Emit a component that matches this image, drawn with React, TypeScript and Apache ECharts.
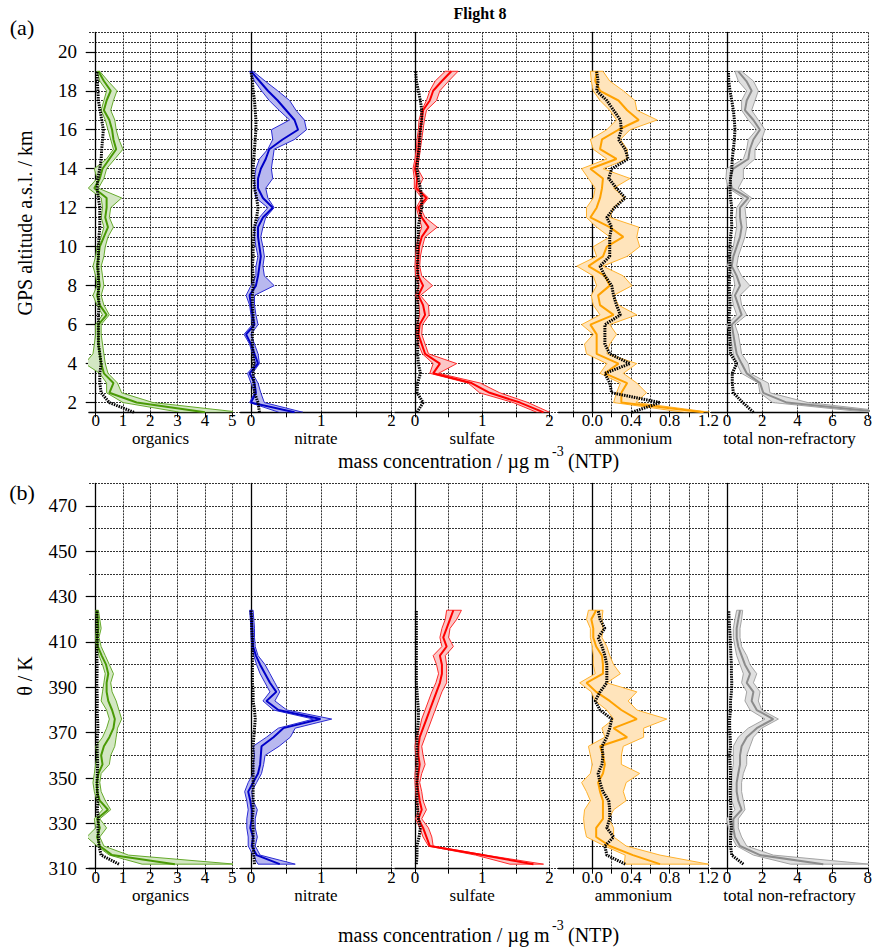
import React, { useEffect, useRef } from "react";
import * as echarts from "echarts";

// ---------- levels ----------
const ALT = [1.5, 2, 2.5, 3, 3.5, 4, 4.5, 5, 5.5, 6, 6.5, 7, 7.5, 8, 8.5, 9, 9.5, 10, 10.5, 11, 11.5, 12, 12.5, 13, 13.5, 14, 14.5, 15, 15.5, 16, 16.5, 17, 17.5, 18, 18.5, 19];
const THETA = [312, 316, 320, 324, 328, 332, 336, 340, 344, 348, 352, 356, 360, 364, 368, 372, 376, 380, 384, 388, 392, 396, 400, 404, 408, 412, 416, 420, 424];

// ---------- (a) altitude profiles ----------
const orgMedA = [4.0, 1.5, 0.5, 0.65, 0.3, 0.2, 0.15, 0.1, 0.1, 0.1, 0.4, 0.15, 0.05, 0.15, 0.1, 0.05, 0.1, 0.15, 0.3, 0.45, 0.35, 0.4, 0.4, -0.05, 0.15, 0.25, 0.5, 0.75, 0.65, 0.6, 0.5, 0.3, 0.4, 0.55, 0.3, 0.1];
const orgLoA = [3.1, 1.0, 0.4, 0.4, 0.15, -0.4, -0.1, -0.05, 0.0, 0.0, 0.25, 0.05, -0.1, 0.05, 0.0, -0.1, 0.0, 0.05, 0.2, 0.3, 0.2, 0.25, 0.2, -0.27, 0.05, -0.05, 0.4, 0.65, 0.55, 0.45, 0.35, 0.2, 0.3, 0.4, 0.15, 0.05];
const orgHiA = [5.3, 2.1, 0.95, 0.8, 0.45, 0.35, 0.3, 0.25, 0.2, 0.2, 0.5, 0.3, 0.2, 0.3, 0.25, 0.2, 0.3, 0.35, 0.45, 0.65, 0.5, 0.55, 0.95, 0.1, 0.3, 0.4, 0.7, 1.0, 0.85, 0.75, 0.7, 0.55, 0.65, 0.78, 0.45, 0.15];
const orgDlA = [1.4, 0.5, 0.2, 0.15, 0.15, 0.2, 0.15, 0.1, 0.1, 0.1, 0.1, 0.12, 0.1, 0.1, 0.1, 0.08, 0.1, 0.1, 0.12, 0.15, 0.15, 0.15, 0.1, 0.05, 0.08, 0.15, 0.2, 0.22, 0.25, 0.28, 0.22, 0.16, 0.1, 0.08, 0.06, 0.05];

const nitMedA = [0.62, 0.0, 0.07, 0.05, -0.02, 0.1, 0.05, 0.0, -0.07, 0.05, 0.02, 0.0, -0.02, 0.07, 0.1, 0.12, 0.14, 0.12, 0.1, 0.1, 0.17, 0.31, 0.17, 0.1, 0.1, 0.14, 0.21, 0.26, 0.45, 0.67, 0.62, 0.5, 0.38, 0.24, 0.12, 0.0];
const nitLoA = [0.4, -0.02, 0.05, 0.0, -0.05, 0.07, 0.02, -0.02, -0.1, 0.02, 0.0, -0.02, -0.07, 0.0, 0.07, 0.07, 0.1, 0.07, 0.05, 0.05, 0.12, 0.24, 0.07, 0.05, 0.05, 0.07, 0.12, 0.24, 0.31, 0.29, 0.55, 0.4, 0.26, 0.15, 0.05, -0.02];
const nitHiA = [0.74, 0.19, 0.14, 0.1, 0.02, 0.12, 0.1, 0.05, 0.0, 0.1, 0.07, 0.05, 0.05, 0.33, 0.19, 0.17, 0.19, 0.17, 0.14, 0.17, 0.21, 0.33, 0.24, 0.21, 0.31, 0.29, 0.31, 0.33, 0.62, 0.79, 0.76, 0.64, 0.55, 0.38, 0.2, 0.03];
const nitDlA = [0.12, 0.1, 0.05, 0.04, 0.03, 0.04, 0.03, 0.02, 0.02, 0.03, 0.03, 0.02, 0.02, 0.03, 0.03, 0.02, 0.03, 0.03, 0.04, 0.05, 0.08, 0.1, 0.08, 0.05, 0.04, 0.03, 0.04, 0.05, 0.06, 0.07, 0.07, 0.06, 0.05, 0.03, 0.02, 0.0];

const sulMedA = [1.91, 1.56, 1.11, 0.84, 0.27, 0.37, 0.15, 0.1, 0.05, 0.07, 0.15, 0.12, 0.05, 0.12, 0.05, 0.03, 0.05, 0.06, 0.1, 0.2, 0.1, 0.05, 0.17, 0.02, 0.03, 0.0, 0.03, 0.05, 0.06, 0.08, 0.1, 0.12, 0.22, 0.27, 0.4, 0.54];
const sulLoA = [1.81, 1.46, 0.96, 0.79, 0.22, 0.27, 0.11, 0.05, 0.02, 0.03, 0.07, 0.06, 0.01, 0.06, 0.01, 0.0, 0.01, 0.02, 0.05, 0.1, 0.06, 0.02, 0.1, -0.01, -0.01, -0.03, 0.0, 0.02, 0.03, 0.05, 0.06, 0.1, 0.17, 0.22, 0.3, 0.45];
const sulHiA = [2.0, 1.68, 1.26, 0.97, 0.35, 0.62, 0.2, 0.15, 0.1, 0.11, 0.21, 0.2, 0.08, 0.26, 0.1, 0.07, 0.08, 0.11, 0.15, 0.33, 0.15, 0.08, 0.2, 0.05, 0.12, 0.04, 0.06, 0.08, 0.1, 0.12, 0.14, 0.17, 0.32, 0.37, 0.5, 0.64];
const sulDlA = [0.03, 0.12, 0.03, 0.04, 0.08, 0.05, 0.04, 0.04, 0.04, 0.04, 0.04, 0.04, 0.04, 0.04, 0.04, 0.04, 0.04, 0.04, 0.05, 0.05, 0.07, 0.1, 0.1, 0.08, 0.05, 0.03, 0.04, 0.06, 0.07, 0.08, 0.1, 0.1, 0.08, 0.05, 0.02, 0.01];

const amMedA = [1.15, 0.3, 0.3, 0.36, 0.13, 0.27, 0.045, 0.045, 0.045, -0.02, 0.22, 0.08, 0.06, 0.18, 0.13, -0.04, 0.11, 0.15, 0.32, 0.18, -0.02, 0.045, 0.08, 0.1, 0.11, -0.02, 0.25, 0.08, 0.1, 0.27, 0.48, 0.36, 0.27, 0.08, 0.03, 0.045];
const amLoA = [0.95, 0.22, 0.25, 0.29, 0.08, 0.15, -0.06, -0.08, 0.01, -0.11, 0.08, 0.01, -0.01, 0.045, 0.01, -0.16, 0.045, 0.01, 0.18, 0.045, -0.06, -0.06, 0.01, 0.03, -0.04, -0.11, 0.15, 0.01, -0.02, 0.15, 0.25, 0.18, 0.08, 0.01, -0.01, -0.02];
const amHiA = [1.22, 0.45, 0.56, 0.46, 0.32, 0.46, 0.15, 0.18, 0.25, 0.18, 0.46, 0.27, 0.22, 0.41, 0.32, 0.11, 0.36, 0.49, 0.46, 0.48, 0.18, 0.22, 0.34, 0.22, 0.39, 0.11, 0.36, 0.36, 0.29, 0.39, 0.67, 0.46, 0.44, 0.32, 0.18, 0.11];
const amDlA = [0.41, 0.7, 0.2, 0.18, 0.13, 0.39, 0.18, 0.13, 0.13, 0.13, 0.29, 0.25, 0.22, 0.2, 0.13, 0.08, 0.18, 0.18, 0.18, 0.2, 0.15, 0.23, 0.34, 0.25, 0.17, 0.2, 0.37, 0.34, 0.27, 0.3, 0.29, 0.22, 0.15, 0.045, 0.06, 0.045];

const totMedA = [8.8, 3.4, 2.06, 1.88, 1.12, 0.83, 0.55, 0.45, 0.36, 0.27, 0.83, 0.64, 0.45, 0.74, 0.55, 0.27, 0.36, 0.55, 0.74, 0.83, 0.74, 0.74, 1.21, 0.27, 0.17, 0.36, 1.21, 1.3, 1.5, 1.87, 1.5, 1.02, 1.12, 1.4, 1.1, 0.64];
const totLoA = [8.0, 2.6, 1.87, 1.78, 0.83, 0.55, 0.36, 0.27, 0.17, 0.0, 0.55, 0.36, 0.27, 0.45, 0.36, 0.02, 0.17, 0.36, 0.45, 0.55, 0.51, 0.55, 0.93, 0.08, -0.06, -0.02, 0.93, 1.12, 1.21, 1.68, 1.21, 0.83, 0.83, 1.12, 0.64, 0.45];
const totHiA = [9.5, 4.6, 2.44, 2.35, 1.3, 1.21, 0.83, 0.74, 0.64, 0.45, 1.12, 0.83, 0.74, 1.3, 0.83, 0.55, 0.64, 0.83, 1.02, 1.12, 1.08, 1.02, 1.4, 0.64, 0.93, 0.93, 1.59, 1.59, 1.97, 2.16, 1.78, 1.4, 1.59, 1.78, 1.5, 0.83];
const totDlA = [1.5, 0.9, 0.36, 0.3, 0.3, 0.55, 0.2, 0.17, 0.15, 0.13, 0.13, 0.17, 0.15, 0.13, 0.15, 0.17, 0.15, 0.17, 0.2, 0.27, 0.25, 0.27, 0.2, 0.17, 0.2, 0.27, 0.3, 0.36, 0.42, 0.45, 0.42, 0.36, 0.27, 0.17, 0.1, 0.08];

// ---------- (b) potential temperature profiles ----------
const orgMedB = [2.9, 0.6, 0.15, 0.05, 0.15, 0.05, 0.45, 0.15, 0.05, 0.04, 0.1, 0.25, 0.2, 0.3, 0.5, 0.65, 0.7, 0.6, 0.46, 0.4, 0.4, 0.46, 0.38, 0.22, 0.08, 0.05, 0.1, 0.08, 0.04];
const orgLoB = [1.7, 0.5, 0.05, -0.33, 0.0, -0.05, 0.25, 0.05, -0.05, -0.1, -0.05, 0.0, 0.05, 0.0, 0.25, 0.4, 0.5, 0.4, 0.2, 0.25, 0.3, 0.35, 0.25, 0.12, 0.02, 0.0, 0.02, 0.02, 0.0];
const orgHiB = [5.1, 1.2, 0.3, 0.15, 0.4, 0.15, 0.55, 0.35, 0.2, 0.15, 0.2, 0.5, 0.55, 0.7, 0.75, 0.8, 0.95, 0.85, 0.75, 0.6, 0.55, 0.65, 0.5, 0.35, 0.2, 0.12, 0.2, 0.15, 0.1];
const orgDlB = [0.85, 0.2, 0.12, 0.1, 0.08, 0.1, 0.06, 0.08, 0.06, 0.05, 0.06, 0.07, 0.06, 0.05, 0.06, 0.08, 0.07, 0.05, 0.06, 0.05, 0.04, 0.05, 0.05, 0.04, 0.05, 0.06, 0.05, 0.04, 0.05];

const nitMedB = [0.41, 0.08, 0.01, 0.03, -0.01, 0.01, 0.01, -0.01, -0.04, 0.03, 0.1, 0.13, 0.14, 0.15, 0.32, 0.46, 0.99, 0.39, 0.22, 0.36, 0.27, 0.2, 0.13, 0.07, 0.03, 0.02, 0.02, 0.01, 0.0];
const nitLoB = [0.1, 0.03, -0.04, -0.04, -0.06, -0.06, -0.04, -0.06, -0.09, -0.04, 0.03, 0.03, 0.05, 0.03, 0.22, 0.39, 0.89, 0.32, 0.17, 0.27, 0.2, 0.13, 0.08, 0.04, 0.01, 0.0, 0.0, -0.01, -0.02];
const nitHiB = [0.63, 0.13, 0.06, 0.09, 0.06, 0.06, 0.09, 0.03, 0.01, 0.08, 0.15, 0.18, 0.2, 0.4, 0.56, 0.63, 1.15, 0.51, 0.34, 0.41, 0.34, 0.27, 0.2, 0.1, 0.06, 0.05, 0.05, 0.04, 0.03];
const nitDlB = [0.05, 0.04, 0.03, 0.03, 0.03, 0.02, 0.03, 0.03, 0.03, 0.03, 0.03, 0.03, 0.03, 0.03, 0.04, 0.05, 0.06, 0.05, 0.03, 0.03, 0.02, 0.02, 0.02, 0.02, 0.02, 0.02, 0.01, 0.01, 0.0];

const sulMedB = [1.76, 1.0, 0.22, 0.17, 0.12, 0.05, 0.1, 0.07, 0.05, 0.03, 0.05, 0.07, 0.05, 0.05, 0.07, 0.12, 0.17, 0.22, 0.27, 0.32, 0.37, 0.4, 0.4, 0.37, 0.47, 0.42, 0.47, 0.52, 0.57];
const sulLoB = [1.41, 0.9, 0.2, 0.12, 0.07, 0.01, 0.05, 0.02, 0.01, 0.0, 0.0, 0.02, 0.01, 0.0, 0.02, 0.07, 0.1, 0.15, 0.2, 0.25, 0.31, 0.35, 0.32, 0.27, 0.4, 0.37, 0.4, 0.45, 0.47];
const sulHiB = [1.91, 1.05, 0.27, 0.25, 0.2, 0.1, 0.17, 0.12, 0.1, 0.07, 0.1, 0.15, 0.12, 0.1, 0.15, 0.2, 0.25, 0.3, 0.35, 0.4, 0.47, 0.47, 0.47, 0.45, 0.57, 0.5, 0.52, 0.62, 0.69];
const sulDlB = [0.02, 0.03, 0.03, 0.06, 0.08, 0.05, 0.04, 0.03, 0.03, 0.03, 0.03, 0.03, 0.03, 0.03, 0.03, 0.04, 0.05, 0.05, 0.04, 0.03, 0.02, 0.02, 0.02, 0.02, 0.02, 0.02, 0.02, 0.02, 0.02];

const amMedB = [0.7, 0.42, 0.18, 0.04, 0.04, 0.11, 0.11, 0.11, 0.08, 0.06, 0.11, 0.13, 0.11, 0.08, 0.36, 0.22, 0.46, 0.3, 0.18, 0.04, -0.06, 0.11, 0.11, 0.1, 0.04, 0.01, 0.01, -0.01, 0.04];
const amLoB = [0.33, 0.34, 0.13, -0.06, -0.08, -0.09, -0.08, -0.02, -0.06, -0.11, -0.02, 0.0, -0.02, -0.04, 0.13, 0.1, 0.22, 0.15, 0.03, -0.01, -0.13, 0.03, 0.01, 0.01, 0.0, -0.02, -0.02, -0.06, -0.04];
const amHiB = [1.2, 0.7, 0.35, 0.22, 0.22, 0.17, 0.22, 0.35, 0.32, 0.35, 0.49, 0.3, 0.3, 0.32, 0.53, 0.53, 0.77, 0.46, 0.37, 0.46, 0.15, 0.29, 0.22, 0.18, 0.15, 0.1, 0.11, 0.1, 0.11];
const amDlB = [0.34, 0.15, 0.13, 0.22, 0.15, 0.18, 0.18, 0.17, 0.11, 0.08, 0.06, 0.1, 0.11, 0.1, 0.15, 0.18, 0.2, 0.08, 0.03, 0.08, 0.15, 0.15, 0.15, 0.13, 0.1, 0.06, 0.13, 0.08, 0.06];

const totMedB = [5.47, 1.88, 0.74, 0.45, 0.36, 0.36, 0.83, 0.64, 0.55, 0.55, 0.64, 0.74, 0.74, 0.83, 1.12, 1.69, 2.63, 1.69, 1.4, 1.5, 1.12, 1.31, 1.02, 0.83, 0.64, 0.55, 0.55, 0.64, 0.74];
const totLoB = [3.6, 1.5, 0.55, 0.27, 0.08, -0.02, 0.45, 0.27, 0.27, 0.27, 0.27, 0.36, 0.36, 0.36, 0.64, 1.21, 2.16, 1.31, 1.02, 1.12, 0.83, 0.93, 0.74, 0.55, 0.45, 0.36, 0.36, 0.45, 0.55];
const totHiB = [8.1, 2.63, 1.12, 0.83, 0.64, 0.64, 1.02, 0.93, 0.83, 0.83, 0.93, 1.12, 1.12, 1.31, 1.5, 1.97, 2.92, 1.97, 1.78, 1.88, 1.5, 1.69, 1.31, 1.12, 0.83, 0.74, 0.74, 0.83, 0.89];
const totDlB = [0.93, 0.27, 0.2, 0.2, 0.25, 0.2, 0.22, 0.2, 0.18, 0.2, 0.2, 0.18, 0.15, 0.2, 0.18, 0.15, 0.15, 0.2, 0.2, 0.25, 0.27, 0.25, 0.25, 0.22, 0.2, 0.18, 0.15, 0.12, 0.1];

// ---------- axis ticks / labels ----------
const SPECIES = ["organics", "nitrate", "sulfate", "ammonium", "total non-refractory"];
const X_TICKS = [
  [0, 1, 2, 3, 4, 5],
  [0, 0.5, 1, 1.5, 2],
  [0, 0.5, 1, 1.5, 2],
  [-0.2, 0, 0.2, 0.4, 0.6, 0.8, 1.0, 1.2],
  [0, 2, 4, 6, 8],
];
const X_LABELS = [
  [0, 1, 2, 3, 4, 5],
  [0, 1, 2],
  [0, 1, 2],
  [0, 0.4, 0.8, 1.2],
  [0, 2, 4, 6, 8],
];
const ALT_LABELS = [2, 4, 6, 8, 10, 12, 14, 16, 18, 20];
const THETA_LABELS = [310, 330, 350, 370, 390, 410, 430, 450, 470];

// ---------- layout / style (not data) ----------
const FONT = "Liberation Serif, serif";
const PANELS = [
  { zero: 95.7, ppu: 27.3, min: -0.25, max: 5, line: "#4a9a06", edge: "#66aa2c", fill: "#d3e7c3" },
  { zero: 251, ppu: 70.2, min: -0.15, max: 2, line: "#0000c8", edge: "#2a2ad4", fill: "#b8b8ef" },
  { zero: 415, ppu: 67.3, min: -0.3, max: 2, line: "#ff0000", edge: "#ff2a2a", fill: "#fbc6c6" },
  { zero: 592.3, ppu: 96.8, min: -0.35, max: 1.2, line: "#ffa200", edge: "#ffb22e", fill: "#ffe4bb" },
  { zero: 727, ppu: 17.6, min: -0.9, max: 8, line: "#8c8c8c", edge: "#a4a4a4", fill: "#dfdfdf" },
];
const BG_LEFT = 89;
const BG_RIGHT = 867.8;
const ROWS = [
  {
    top: 32.3, height: 380, min: 1.5, max: 21, step: 0.5, levels: ALT, yLabels: ALT_LABELS,
    med: [orgMedA, nitMedA, sulMedA, amMedA, totMedA],
    lo: [orgLoA, nitLoA, sulLoA, amLoA, totLoA],
    hi: [orgHiA, nitHiA, sulHiA, amHiA, totHiA],
    dl: [orgDlA, nitDlA, sulDlA, amDlA, totDlA],
  },
  {
    top: 483.3, height: 385.4, min: 310, max: 480, step: 10, levels: THETA, yLabels: THETA_LABELS,
    med: [orgMedB, nitMedB, sulMedB, amMedB, totMedB],
    lo: [orgLoB, nitLoB, sulLoB, amLoB, totLoB],
    hi: [orgHiB, nitHiB, sulHiB, amHiB, totHiB],
    dl: [orgDlB, nitDlB, sulDlB, amDlB, totDlB],
  },
];
const GRID_LINE = { color: "#333333", width: 1, type: [2, 1] };

function buildOption() {
  const grid: any[] = [];
  const xAxis: any[] = [];
  const yAxis: any[] = [];
  const series: any[] = [];

  ROWS.forEach((row) => {
    const bg = grid.length;
    grid.push({ left: BG_LEFT, top: row.top, width: BG_RIGHT - BG_LEFT, height: row.height, containLabel: false, outerBoundsMode: "none" });
    xAxis.push({ gridIndex: bg, type: "value", min: 0, max: 1, show: false });
    yAxis.push({
      gridIndex: bg, type: "value", min: row.min, max: row.max, interval: row.step,
      axisLine: { show: false }, axisTick: { show: false }, axisLabel: { show: false },
      splitLine: { show: true, lineStyle: GRID_LINE },
    });

    PANELS.forEach((p, k) => {
      const gi = grid.length;
      grid.push({
        left: p.zero + p.min * p.ppu, top: row.top, width: (p.max - p.min) * p.ppu, height: row.height,
        containLabel: false, outerBoundsMode: "none",
      });
      xAxis.push({
        gridIndex: gi, type: "value", min: p.min, max: p.max, position: "bottom",
        axisLine: { show: true, onZero: false, lineStyle: { color: "#000", width: 1.3 } },
        axisTick: { show: true, customValues: X_TICKS[k], length: 5, inside: false, lineStyle: { color: "#000", width: 1 } },
        axisLabel: {
          show: true, customValues: X_LABELS[k], margin: 0, color: "#000", fontFamily: FONT, fontSize: 17,
          formatter: (v: number) => (k === 3 ? v.toFixed(1) : String(v)),
        },
        splitLine: { show: true, lineStyle: GRID_LINE },
        name: SPECIES[k], nameLocation: "middle", nameGap: 18, nameMoveOverlap: false,
        nameTextStyle: { color: "#000", fontFamily: FONT, fontSize: 17 },
      });
      yAxis.push({
        gridIndex: gi, type: "value", min: row.min, max: row.max,
        axisLine: { show: true, onZero: true, lineStyle: { color: "#000", width: 1.3 } },
        axisTick: k === 0
          ? { show: true, customValues: row.yLabels, length: 10, inside: false, lineStyle: { color: "#000", width: 1.2 } }
          : { show: false },
        axisLabel: k === 0
          ? { show: true, customValues: row.yLabels, margin: 12, color: "#000", fontFamily: FONT, fontSize: 19 }
          : { show: false },
        splitLine: { show: false },
      });

      const ys = row.levels;
      const lo = row.lo[k];
      const hi = row.hi[k];
      series.push({
        type: "custom", xAxisIndex: gi, yAxisIndex: gi, clip: true, silent: true, z: 2,
        encode: { x: [0, 1], y: 2 },
        data: ys.map((y, i) => [lo[i], hi[i], y]),
        renderItem: (params: any, api: any) => {
          if (params.dataIndex !== 0) return null;
          const pts: number[][] = [];
          for (let i = 0; i < ys.length; i++) pts.push(api.coord([hi[i], ys[i]]));
          for (let i = ys.length - 1; i >= 0; i--) pts.push(api.coord([lo[i], ys[i]]));
          return {
            type: "polygon",
            shape: { points: pts },
            style: { fill: p.fill, stroke: p.edge, lineWidth: 1 },
          };
        },
      });
      series.push({
        type: "line", xAxisIndex: gi, yAxisIndex: gi, z: 3, silent: true,
        data: ys.map((y, i) => [row.med[k][i], y]),
        showSymbol: false, symbol: "none",
        lineStyle: { color: p.line, width: 2 },
      });
      series.push({
        type: "line", xAxisIndex: gi, yAxisIndex: gi, z: 4, silent: true,
        data: ys.map((y, i) => [row.dl[k][i], y]),
        showSymbol: false, symbol: "none",
        lineStyle: { color: "#000000", width: 3, type: [1.5, 1] },
      });
    });
  });

  const txt = (text: string, x: number, y: number, size: number, extra: any = {}) => ({
    type: "text", x, y, silent: true,
    style: { text, fontFamily: FONT, fontSize: size, fill: "#000", align: "center", verticalAlign: "middle", ...(extra.style || {}) },
    ...(extra.el || {}),
  });

  const graphic = [
    txt("Flight 8", 480, 13, 16, { style: { fontWeight: "bold" } }),
    txt("(a)", 22, 27, 22),
    txt("(b)", 22, 492, 22),
    txt("GPS altitude a.s.l. / km", 25, 223, 20, { el: { rotation: Math.PI / 2 } }),
    txt("θ / K", 25, 676, 20, { el: { rotation: Math.PI / 2 } }),
    txt("mass concentration / µg m", 338, 461, 20, { style: { align: "left" } }),
    txt("-3", 552, 451, 14, { style: { align: "left" } }),
    txt("(NTP)", 568, 461, 20, { style: { align: "left" } }),
    txt("mass concentration / µg m", 338, 935, 20, { style: { align: "left" } }),
    txt("-3", 552, 925, 14, { style: { align: "left" } }),
    txt("(NTP)", 568, 935, 20, { style: { align: "left" } }),
  ];

  return {
    animation: false,
    backgroundColor: "#ffffff",
    textStyle: { fontFamily: FONT },
    grid, xAxis, yAxis, series, graphic,
  };
}

export default function App() {
  const ref = useRef<HTMLDivElement | null>(null);
  useEffect(() => {
    if (!ref.current) return;
    const chart = echarts.init(ref.current, null, { renderer: "svg" });
    chart.setOption(buildOption() as any);
    return () => chart.dispose();
  }, []);
  return <div ref={ref} style={{ position: "absolute", left: 0, top: 0, width: 874, height: 947 }} />;
}
